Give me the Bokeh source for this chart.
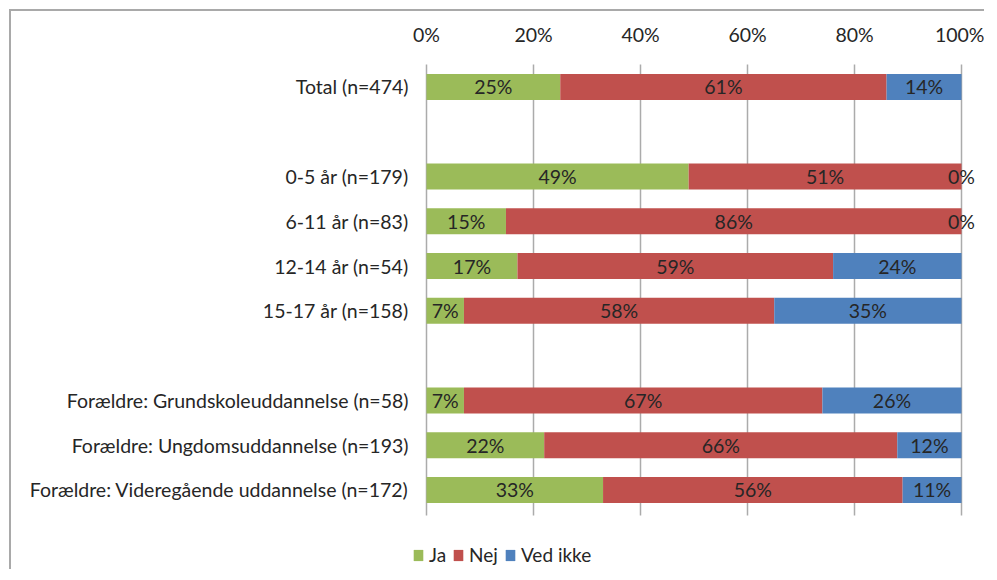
from bokeh.plotting import figure
from bokeh.models import (ColumnDataSource, Range1d, FixedTicker,
                          PrintfTickFormatter, Legend, LegendItem)
from bokeh.core.properties import value
from bokeh.embed import file_html
from bokeh.resources import INLINE

categories = ["Total (n=474)", "0-5 år (n=179)", "6-11 år (n=83)", "12-14 år (n=54)",
              "15-17 år (n=158)", "Forældre: Grundskoleuddannelse (n=58)",
              "Forældre: Ungdomsuddannelse (n=193)", "Forældre: Videregående uddannelse (n=172)"]
ja = [25, 49, 15, 17, 7, 7, 22, 33]
nej = [61, 51, 86, 59, 58, 67, 66, 56]
ved = [14, 0, 0, 24, 35, 26, 12, 11]
series_names = ["Ja", "Nej", "Ved ikke"]
colors = ["#9BBB59", "#C0504D", "#4F81BD"]
x_ticks = [0, 20, 40, 60, 80, 100]

# row layout, top to bottom (None = empty spacer row)
row_order = [categories[0], None, *categories[1:5], None, *categories[5:]]
n_rows = len(row_order)
ypos = {c: n_rows - 1 - i for i, c in enumerate(row_order) if c is not None}
ys = [ypos[c] for c in categories]

FONT = "Lato"
FS = "19.5px"
TXT = "#262626"

W, H = 975, 560
px_per_pct = 5.35
zero_px = 415
p = figure(width=W, height=H, output_backend="svg", toolbar_location=None,
           y_range=Range1d(-1.82, n_rows - 0.5),
           x_range=Range1d(-zero_px / px_per_pct, (W - zero_px) / px_per_pct),
           x_axis_location="above", y_axis_location=None,
           min_border_left=0, min_border_right=0, min_border_top=53, min_border_bottom=0)
p.styles = {"margin-left": "9px", "margin-top": "9px",
            "border-left": "2px solid #a9a9a9", "border-top": "2px solid #a9a9a9"}
p.outline_line_color = None
p.background_fill_color = "white"
p.xgrid.grid_line_color = None
p.ygrid.grid_line_color = None

# vertical gridlines spanning the rows
p.segment(x0=x_ticks, x1=x_ticks, y0=[-0.57] * len(x_ticks), y1=[n_rows - 0.45] * len(x_ticks),
          line_color="#ababab", line_width=1.5)

# stacked segments, positioned as shares of the row total
series = [ja, nej, ved]
totals = [a + b + c for a, b, c in zip(ja, nej, ved)]
renderers = []
label_x, label_y, label_t = [], [], []
cum = [0.0] * len(categories)
for vals, name, col in zip(series, series_names, colors):
    left = [c / t * 100 for c, t in zip(cum, totals)]
    cum = [c + v for c, v in zip(cum, vals)]
    right = [c / t * 100 for c, t in zip(cum, totals)]
    src = ColumnDataSource(dict(y=ys, left=left, right=right))
    r = p.hbar(y="y", left="left", right="right", height=0.58, source=src,
               fill_color=col, line_color=None)
    renderers.append(r)
    for yy, l, rr, v in zip(ys, left, right, vals):
        label_x.append((l + rr) / 2)
        label_y.append(yy)
        label_t.append(f"{v}%")

p.text(x=label_x, y=label_y, text=label_t, text_align="center", text_baseline="middle",
       text_font=value(FONT), text_font_size=FS, text_color=TXT)

# category labels, right-aligned left of the 0% line
p.text(x=[0] * len(categories), y=ys, text=categories, x_offset=-18,
       text_align="right", text_baseline="middle",
       text_font=value(FONT), text_font_size=FS, text_color=TXT)

xa = p.xaxis[0]
xa.ticker = FixedTicker(ticks=x_ticks)
xa.formatter = PrintfTickFormatter(format="%d%%")
xa.axis_line_color = None
xa.major_tick_line_color = None
xa.minor_tick_line_color = None
xa.major_label_text_font = FONT
xa.major_label_text_font_size = FS
xa.major_label_text_color = TXT
xa.major_label_standoff = 13

legend = Legend(items=[LegendItem(label=n, renderers=[r]) for n, r in zip(series_names, renderers)],
                orientation="horizontal", location=(401, 5))
legend.border_line_color = None
legend.background_fill_alpha = 0
legend.label_text_font = FONT
legend.label_text_font_size = "19px"
legend.label_text_color = TXT
legend.glyph_width = 12
legend.glyph_height = 14
legend.label_standoff = 5
legend.spacing = 6
legend.padding = 0
legend.margin = 0
legend.label_width = 0
p.add_layout(legend, "center")

open("out.html", "w").write(file_html(p, INLINE))
